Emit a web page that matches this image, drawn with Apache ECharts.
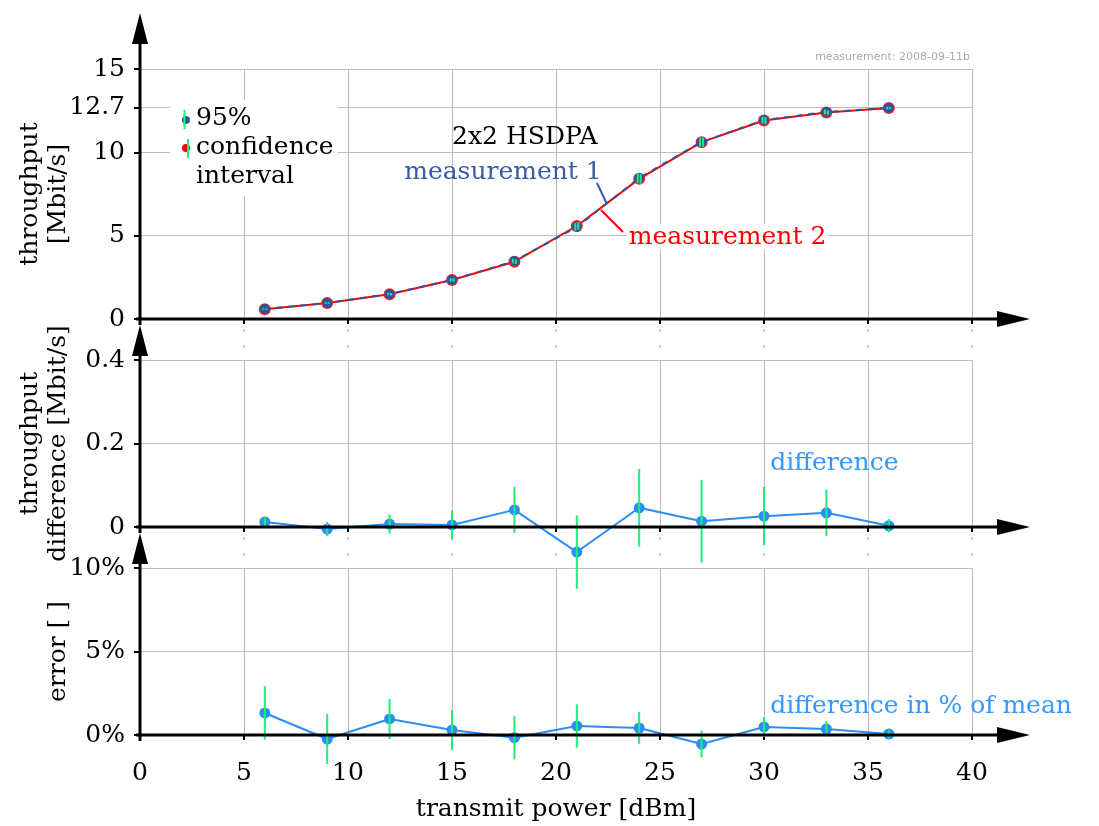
<!DOCTYPE html>
<html>
<head>
<meta charset="utf-8">
<script src="https://cdn.jsdelivr.net/npm/echarts@6/dist/echarts.min.js"></script>
<style>
  html, body { margin: 0; padding: 0; background: #fff; }
  #main { width: 1099px; height: 826px; }
</style>
</head>
<body>
<div id="main"></div>
<script>
// transmit power [dBm]
var power = [6, 9, 12, 15, 18, 21, 24, 27, 30, 33, 36];
// throughput, two measurements [Mbit/s]
var thr1 = [0.60, 0.96, 1.50, 2.34, 3.48, 5.52, 8.46, 10.62, 11.94, 12.42, 12.66];
var thr2 = [0.59, 0.96, 1.49, 2.34, 3.44, 5.58, 8.41, 10.61, 11.91, 12.39, 12.66];
// 95% confidence half widths
var ci1 = [0.04, 0.05, 0.07, 0.10, 0.14, 0.22, 0.28, 0.28, 0.20, 0.14, 0.07];
var ci2 = [0.04, 0.05, 0.07, 0.10, 0.14, 0.22, 0.28, 0.28, 0.20, 0.14, 0.07];
// throughput difference [Mbit/s]
var diff = [0.012, -0.005, 0.007, 0.005, 0.041, -0.060, 0.046, 0.014, 0.026, 0.034, 0.003];
var diffCi = [0.010, 0.017, 0.023, 0.035, 0.055, 0.088, 0.093, 0.099, 0.070, 0.056, 0.016];
// difference in % of mean
var pct = [1.32, -0.24, 0.96, 0.30, -0.16, 0.54, 0.42, -0.54, 0.48, 0.36, 0.06];
var pctCi = [1.6, 1.5, 1.2, 1.2, 1.3, 1.3, 0.95, 0.8, 0.6, 0.45, 0.25];
// tick labels
var thrTicks = [0, 5, 10, 12.7, 15];
var diffTicks = [0, 0.2, 0.4];
var pctTicks = [0, 5, 10];

var serif = 'DejaVu Serif';
var fs = 25;
var green = '#19f07a';
var lightBlue = '#2b8ef5';
var darkBlue = '#2f52a0';

function pairs(ys) {
    return power.map(function (x, i) { return [x, ys[i]]; });
}
function bars(ys, es) {
    return power.map(function (x, i) { return [x, ys[i] - es[i], ys[i] + es[i]]; });
}
function errBar(offset) {
    return function (params, api) {
        var a = api.coord([api.value(0), api.value(1)]);
        var b = api.coord([api.value(0), api.value(2)]);
        return {
            type: 'line',
            shape: { x1: a[0] + offset, y1: a[1], x2: b[0] + offset, y2: b[1] },
            style: { stroke: green, lineWidth: 2 }
        };
    };
}

var chartDom = document.getElementById('main');
var myChart = echarts.init(chartDom);

var gridTops = [69, 360, 568];
var gridHeights = [250, 167, 167];

function gridOf(g) {
    return { left: 140, right: 127, top: gridTops[g], height: gridHeights[g], containLabel: false, outerBoundsMode: 'none' };
}
function xAxisOf(g, showLabel) {
    return {
        gridIndex: g, type: 'value', min: 0, max: 40, interval: 5,
        axisLine: { show: false },
        axisTick: { show: true, length: 5, lineStyle: { color: '#000', width: 2 } },
        axisLabel: { show: showLabel, margin: 26, color: '#000', fontFamily: serif, fontSize: fs },
        splitLine: { show: true, lineStyle: { color: '#bdbdbd', width: 1 } },
        name: showLabel ? 'transmit power [dBm]' : '',
        nameLocation: 'middle', nameGap: 62, nameMoveOverlap: false,
        nameTextStyle: { color: '#000', fontFamily: serif, fontSize: fs }
    };
}
function yAxisOf(g, min, max, ticks, name, fmt) {
    return {
        gridIndex: g, type: 'value', min: min, max: max,
        name: name, nameLocation: 'middle', nameRotate: 90, nameGap: 68, nameMoveOverlap: false,
        nameTextStyle: { color: '#000', fontFamily: serif, fontSize: fs, lineHeight: 28 },
        axisLine: { show: false },
        axisTick: { show: true, length: 6, customValues: ticks, lineStyle: { color: '#000', width: 2 } },
        axisLabel: { customValues: ticks, margin: 15, color: '#000', fontFamily: serif, fontSize: fs, formatter: fmt },
        splitLine: { show: true, lineStyle: { color: '#bdbdbd', width: 1 } }
    };
}

var option = {
    animation: false,
    backgroundColor: '#fff',
    grid: [gridOf(0), gridOf(1), gridOf(2)],
    xAxis: [xAxisOf(0, false), xAxisOf(1, false), xAxisOf(2, true)],
    yAxis: [
        yAxisOf(0, 0, 15, thrTicks, 'throughput\n[Mbit/s]', function (v) { return String(v); }),
        yAxisOf(1, 0, 0.4, diffTicks, 'throughput\ndifference [Mbit/s]', function (v) { return String(v); }),
        yAxisOf(2, 0, 10, pctTicks, 'error [ ]', function (v) { return v + '%'; })
    ],
    series: [
        {
            name: 'measurement 2', type: 'line', xAxisIndex: 0, yAxisIndex: 0,
            data: pairs(thr2), symbol: 'circle', symbolSize: 12, z: 2,
            lineStyle: { color: '#ff0000', width: 2 },
            itemStyle: { color: '#ff2020' }
        },
        {
            name: 'measurement 1', type: 'line', xAxisIndex: 0, yAxisIndex: 0,
            data: pairs(thr1), symbol: 'circle', symbolSize: 10, z: 3,
            lineStyle: { color: darkBlue, width: 2, type: [6, 6] },
            itemStyle: { color: darkBlue }
        },
        {
            type: 'custom', xAxisIndex: 0, yAxisIndex: 0, z: 4,
            data: bars(thr1, ci1), renderItem: errBar(-1.5)
        },
        {
            type: 'custom', xAxisIndex: 0, yAxisIndex: 0, z: 4,
            data: bars(thr2, ci2), renderItem: errBar(1.5)
        },
        {
            name: 'difference', type: 'line', xAxisIndex: 1, yAxisIndex: 1, clip: false,
            data: pairs(diff), symbol: 'circle', symbolSize: 11, z: 3,
            lineStyle: { color: lightBlue, width: 2 },
            itemStyle: { color: lightBlue }
        },
        {
            type: 'custom', xAxisIndex: 1, yAxisIndex: 1, z: 4, clip: false,
            data: bars(diff, diffCi), renderItem: errBar(0)
        },
        {
            name: 'difference in % of mean', type: 'line', xAxisIndex: 2, yAxisIndex: 2, clip: false,
            data: pairs(pct), symbol: 'circle', symbolSize: 11, z: 3,
            lineStyle: { color: lightBlue, width: 2 },
            itemStyle: { color: lightBlue }
        },
        {
            type: 'custom', xAxisIndex: 2, yAxisIndex: 2, z: 4, clip: false,
            data: bars(pct, pctCi), renderItem: errBar(0)
        }
    ]
};
myChart.setOption(option);

// axes with arrows, annotations and the hand made legend
function px(g, pt) { return myChart.convertToPixel({ gridIndex: g }, pt); }
var gfx = [];
var tipAbove = [56, 35, 35];
for (var g = 0; g < 3; g++) {
    var o = px(g, [0, 0]);
    var e = px(g, [40, 0]);
    var tip = gridTops[g] - tipAbove[g];
    gfx.push({ type: 'line', z: 50, shape: { x1: o[0], y1: o[1] + 6, x2: o[0], y2: tip + 28 }, style: { stroke: '#000', lineWidth: 3 } });
    gfx.push({ type: 'polygon', z: 50, shape: { points: [[o[0] - 8, tip + 31], [o[0], tip], [o[0] + 8, tip + 31]] }, style: { fill: '#000' } });
    gfx.push({ type: 'line', z: 50, shape: { x1: o[0] - 4, y1: o[1], x2: e[0] + 28, y2: o[1] }, style: { stroke: '#000', lineWidth: 3 } });
    gfx.push({ type: 'polygon', z: 50, shape: { points: [[e[0] + 25, o[1] - 8], [e[0] + 58, o[1]], [e[0] + 25, o[1] + 8]] }, style: { fill: '#000' } });
    if (g < 2) {
        for (var t = 5; t <= 40; t += 5) {
            var p = px(g, [t, 0]);
            gfx.push({ type: 'line', z: 1, shape: { x1: p[0], y1: p[1] + 10, x2: p[0], y2: gridTops[g + 1] - 2 },
                style: { stroke: '#999', lineWidth: 1, lineDash: [3, 13] } });
        }
    }
}

function txt(g, pt, text, color, align, bg) {
    var p = px(g, pt);
    return { type: 'text', z: 60, x: p[0], y: p[1], style: {
        text: text, fill: color, align: align, verticalAlign: 'middle',
        font: fs + 'px "' + serif + '"', backgroundColor: bg, padding: bg ? [0, 2] : 0 } };
}
function seg(g, a, b, color) {
    var p = px(g, a), q = px(g, b);
    return { type: 'line', z: 60, shape: { x1: p[0], y1: p[1], x2: q[0], y2: q[1] }, style: { stroke: color, lineWidth: 2 } };
}

gfx.push(txt(0, [18.5, 10.9], '2x2 HSDPA', '#000', 'center'));
gfx.push(txt(0, [22.2, 8.82], 'measurement 1', '#3a5aa8', 'right'));
gfx.push(seg(0, [21.97, 8.16], [22.45, 6.9], '#3a5aa8'));
gfx.push(txt(0, [23.4, 4.9], 'measurement 2', '#ff0000', 'left', '#fff'));
gfx.push(seg(0, [23.22, 5.22], [22.16, 6.54], '#ff0000'));
gfx.push(txt(1, [30.3, 0.153], 'difference', '#3399ff', 'left'));
gfx.push(txt(2, [30.3, 1.68], 'difference in % of mean', '#3399ff', 'left'));

// legend box
gfx.push({ type: 'rect', z: 40, shape: { x: 170, y: 100, width: 168, height: 96 }, style: { fill: '#fff' } });
gfx.push({ type: 'circle', z: 41, shape: { cx: 186, cy: 120, r: 4 }, style: { fill: darkBlue } });
gfx.push({ type: 'line', z: 42, shape: { x1: 184.5, y1: 110, x2: 184.5, y2: 129 }, style: { stroke: green, lineWidth: 2 } });
gfx.push({ type: 'circle', z: 41, shape: { cx: 186, cy: 148, r: 4 }, style: { fill: '#ff0000' } });
gfx.push({ type: 'line', z: 42, shape: { x1: 188, y1: 139, x2: 188, y2: 158 }, style: { stroke: green, lineWidth: 2 } });
['95%', 'confidence', 'interval'].forEach(function (s, i) {
    gfx.push({ type: 'text', z: 43, x: 196, y: 118 + i * 29, style: { text: s, fill: '#000', align: 'left', verticalAlign: 'middle', font: fs + 'px "' + serif + '"' } });
});
gfx.push({ type: 'text', z: 43, x: 970, y: 57, style: { text: 'measurement: 2008-09-11b', fill: '#aaaaaa', align: 'right', verticalAlign: 'middle', font: '11px "DejaVu Sans"' } });

myChart.setOption({ graphic: { elements: gfx } });
</script>
</body>
</html>
